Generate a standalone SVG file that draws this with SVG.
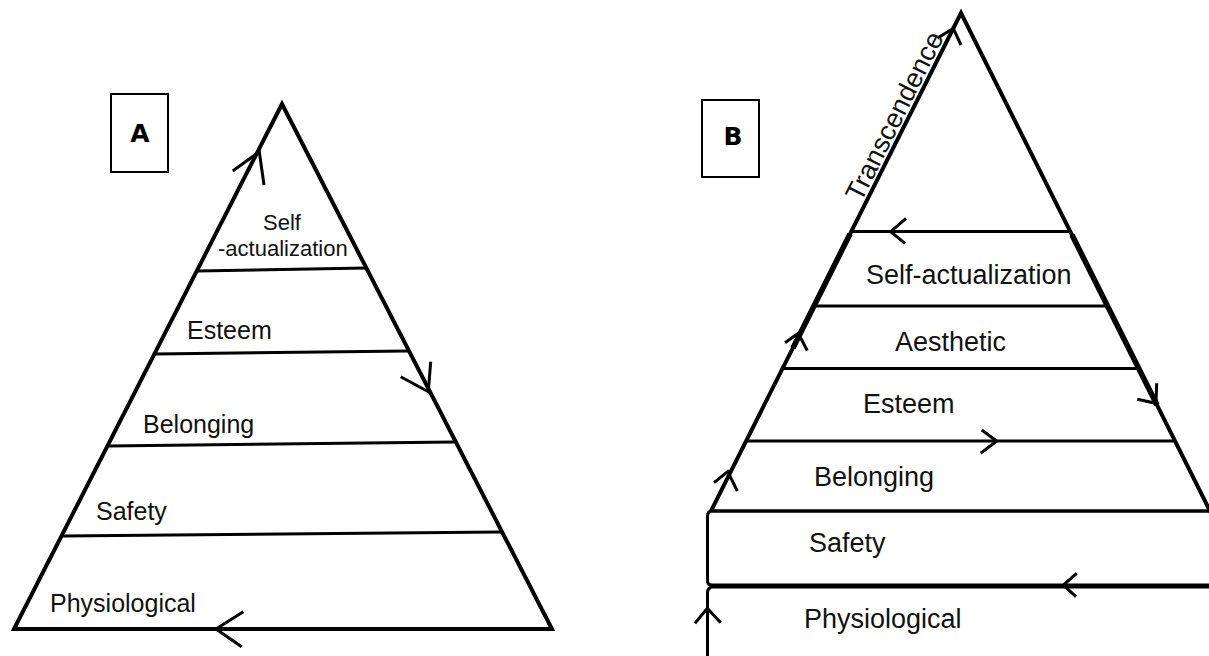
<svg xmlns="http://www.w3.org/2000/svg" width="1209" height="656" viewBox="0 0 1209 656">
<style>
.edge{fill:none;stroke:#000;stroke-width:4;stroke-linejoin:miter}
.lvl{fill:none;stroke:#000;stroke-width:3}
.arr{fill:none;stroke:#000;stroke-width:3;stroke-linecap:butt;stroke-linejoin:miter}
.box{fill:#fff;stroke:#000;stroke-width:2}
.lab{font-family:"Liberation Sans",Arial,Helvetica,sans-serif;fill:#111}
.la{font-size:25px}
.ls{font-size:22px}
.lb{font-size:27px}
.pl{font-family:"DejaVu Sans",Verdana,sans-serif;font-weight:bold;font-size:25px;fill:#000;text-anchor:middle}
</style>
<rect width="1209" height="656" fill="#fff"/>

<!-- Panel A -->
<g id="panelA">
  <g id="A-label">
    <rect class="box" x="111" y="94" width="57" height="78"/>
    <text class="pl" x="140" y="142">A</text>
  </g>
  <g id="A-pyramid">
    <polygon class="edge" points="282,104 552,629 14,629"/>
  </g>
  <g id="A-self-actualization">
    <line class="lvl" x1="197" y1="271" x2="366" y2="268"/>
    <text class="lab ls" x="263" y="230">Self</text>
    <text class="lab ls" x="218" y="256">-actualization</text>
  </g>
  <g id="A-esteem">
    <line class="lvl" x1="155" y1="354" x2="408" y2="351"/>
    <text class="lab la" x="187" y="339">Esteem</text>
  </g>
  <g id="A-belonging">
    <line class="lvl" x1="108" y1="446" x2="455" y2="442"/>
    <text class="lab la" x="143" y="433">Belonging</text>
  </g>
  <g id="A-safety">
    <line class="lvl" x1="62" y1="536" x2="501" y2="532"/>
    <text class="lab la" x="96" y="520">Safety</text>
  </g>
  <g id="A-physiological">
    <text class="lab la" x="50" y="612">Physiological</text>
  </g>
</g>

<!-- Panel B -->
<g id="panelB">
  <g id="B-label">
    <rect class="box" x="702" y="100" width="57" height="77"/>
    <text class="pl" x="733" y="145">B</text>
  </g>
  <g id="B-pyramid">
    <polyline class="edge" points="711,511 961,13 1212,515"/>
    <line x1="850" y1="234" x2="793" y2="348" stroke="#000" stroke-width="5.5"/>
    <line x1="1072" y1="235" x2="1157" y2="405" stroke="#000" stroke-width="5.5"/>
  </g>
  <g id="B-transcendence">
    <line class="lvl" x1="851" y1="231.5" x2="1071" y2="231.5"/>
    <text class="lab lb" transform="translate(861,203) rotate(-63.3)">Transcendence</text>
  </g>
  <g id="B-self-actualization">
    <line class="lvl" x1="814" y1="306" x2="1108" y2="306"/>
    <text class="lab lb" x="866" y="284">Self-actualization</text>
  </g>
  <g id="B-aesthetic">
    <line class="lvl" x1="783" y1="368.5" x2="1139" y2="368.5"/>
    <text class="lab lb" x="895" y="351">Aesthetic</text>
  </g>
  <g id="B-esteem">
    <line class="lvl" x1="746" y1="441" x2="1175" y2="441"/>
    <text class="lab lb" x="863" y="413">Esteem</text>
  </g>
  <g id="B-belonging">
    <line class="lvl" x1="710" y1="511" x2="1209" y2="511"/>
    <text class="lab lb" x="814" y="486">Belonging</text>
  </g>
  <g id="B-safety">
    <path class="lvl" d="M1215,511 L712,511 Q707.5,511 707.5,516 L707.5,581 Q707.5,585 712,585 L1215,585"/>
    <text class="lab lb" x="809" y="552">Safety</text>
  </g>
  <g id="B-physiological">
    <path class="lvl" d="M1215,587 L713,587 Q707.5,587 707.5,593 L707.5,660"/>
    <text class="lab lb" x="804" y="628">Physiological</text>
  </g>
</g>

<!-- Connectors (cycle arrows) -->
<g id="connectors">
  <polyline class="arr" points="232.7,171 259.3,151.7 264,185"/>
  <polyline class="arr" points="400.7,376.7 428.3,391.7 430.7,361.7"/>
  <polyline class="arr" points="243.3,611.7 216,629 241.7,646.7"/>

  <polyline class="arr" points="937.3,38.3 953.3,28.3 961,45"/>
  <polyline class="arr" points="785,342.7 798.3,333.3 807.3,350.7"/>
  <polyline class="arr" points="714,482.7 727.7,471.7 737.3,491"/>
  <polyline class="arr" points="695,623.3 707.3,608.3 720.7,622.7"/>
  <polyline class="arr" points="906,218.3 890.7,231.7 905,243.3"/>
  <polyline class="arr" points="981.7,430 996.7,441 980.7,453.3"/>
  <polyline class="arr" points="1137.3,399.3 1156,403.3 1156.7,383.3"/>
  <polyline class="arr" points="1076.7,573.3 1063.3,585 1076,596.7"/>
</g>
</svg>
